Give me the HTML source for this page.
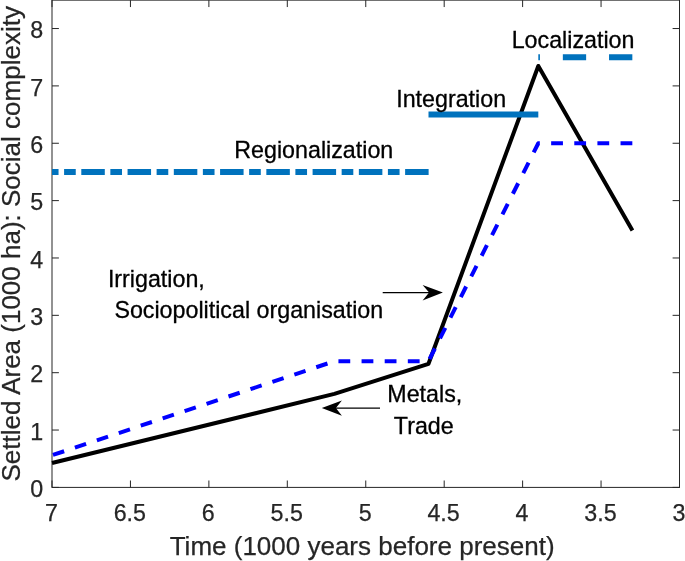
<!DOCTYPE html>
<html><head><meta charset="utf-8"><title>Settled area and social complexity</title>
<style>
html,body{margin:0;padding:0;background:#fff;}
svg{display:block;}
text{font-family:"Liberation Sans",Arial,Helvetica,sans-serif;}
.tk{font-size:23.25px;fill:#262626;stroke:#262626;stroke-width:0.25px;}
.lb{font-size:26.0px;fill:#262626;stroke:#262626;stroke-width:0.25px;}
.an{font-size:23.25px;fill:#000;stroke:#000;stroke-width:0.3px;}
</style></head><body>
<svg width="685" height="561" viewBox="0 0 685 561">
<rect width="685" height="561" fill="#fff"/>
<g stroke="#262626" stroke-width="1" fill="none" stroke-linecap="butt">
<rect x="52.00" y="0.15" width="627.50" height="487.25"/>
<line x1="52.00" y1="487.40" x2="52.00" y2="480.50"/>
<line x1="52.00" y1="0.15" x2="52.00" y2="7.05"/>
<line x1="130.44" y1="487.40" x2="130.44" y2="480.50"/>
<line x1="130.44" y1="0.15" x2="130.44" y2="7.05"/>
<line x1="208.88" y1="487.40" x2="208.88" y2="480.50"/>
<line x1="208.88" y1="0.15" x2="208.88" y2="7.05"/>
<line x1="287.31" y1="487.40" x2="287.31" y2="480.50"/>
<line x1="287.31" y1="0.15" x2="287.31" y2="7.05"/>
<line x1="365.75" y1="487.40" x2="365.75" y2="480.50"/>
<line x1="365.75" y1="0.15" x2="365.75" y2="7.05"/>
<line x1="444.19" y1="487.40" x2="444.19" y2="480.50"/>
<line x1="444.19" y1="0.15" x2="444.19" y2="7.05"/>
<line x1="522.62" y1="487.40" x2="522.62" y2="480.50"/>
<line x1="522.62" y1="0.15" x2="522.62" y2="7.05"/>
<line x1="601.06" y1="487.40" x2="601.06" y2="480.50"/>
<line x1="601.06" y1="0.15" x2="601.06" y2="7.05"/>
<line x1="679.50" y1="487.40" x2="679.50" y2="480.50"/>
<line x1="679.50" y1="0.15" x2="679.50" y2="7.05"/>
<line x1="52.00" y1="487.40" x2="58.90" y2="487.40"/>
<line x1="679.50" y1="487.40" x2="672.60" y2="487.40"/>
<line x1="52.00" y1="430.04" x2="58.90" y2="430.04"/>
<line x1="679.50" y1="430.04" x2="672.60" y2="430.04"/>
<line x1="52.00" y1="372.69" x2="58.90" y2="372.69"/>
<line x1="679.50" y1="372.69" x2="672.60" y2="372.69"/>
<line x1="52.00" y1="315.33" x2="58.90" y2="315.33"/>
<line x1="679.50" y1="315.33" x2="672.60" y2="315.33"/>
<line x1="52.00" y1="257.97" x2="58.90" y2="257.97"/>
<line x1="679.50" y1="257.97" x2="672.60" y2="257.97"/>
<line x1="52.00" y1="200.62" x2="58.90" y2="200.62"/>
<line x1="679.50" y1="200.62" x2="672.60" y2="200.62"/>
<line x1="52.00" y1="143.26" x2="58.90" y2="143.26"/>
<line x1="679.50" y1="143.26" x2="672.60" y2="143.26"/>
<line x1="52.00" y1="85.90" x2="58.90" y2="85.90"/>
<line x1="679.50" y1="85.90" x2="672.60" y2="85.90"/>
<line x1="52.00" y1="28.54" x2="58.90" y2="28.54"/>
<line x1="679.50" y1="28.54" x2="672.60" y2="28.54"/>
</g>
<g class="tk" text-anchor="middle">
<text x="51.40" y="520.9">7</text>
<text x="129.84" y="520.9">6.5</text>
<text x="208.28" y="520.9">6</text>
<text x="286.71" y="520.9">5.5</text>
<text x="365.15" y="520.9">5</text>
<text x="443.59" y="520.9">4.5</text>
<text x="522.02" y="520.9">4</text>
<text x="600.46" y="520.9">3.5</text>
<text x="678.90" y="520.9">3</text>
</g>
<g class="tk" text-anchor="end">
<text x="43.2" y="497.00">0</text>
<text x="43.2" y="439.64">1</text>
<text x="43.2" y="382.29">2</text>
<text x="43.2" y="324.93">3</text>
<text x="43.2" y="267.57">4</text>
<text x="43.2" y="210.22">5</text>
<text x="43.2" y="152.86">6</text>
<text x="43.2" y="95.50">7</text>
<text x="43.2" y="38.14">8</text>
</g>
<text class="lb" x="169.7" y="555.4">Time (1000 years before present)</text>
<text class="lb" transform="translate(19.6 481.6) rotate(-90)">Settled Area (1000 ha): Social complexity</text>
<polyline points="52.00,463.02 334.38,393.91 428.50,363.80 538.31,66.00 632.44,230.61" fill="none" stroke="#000" stroke-width="4" stroke-linejoin="round"/>
<polyline points="52.00,455.28 334.38,361.21 428.50,361.21 538.31,143.26 632.44,143.26" fill="none" stroke="#0000FF" stroke-width="4" stroke-dasharray="11.8 11.33" stroke-dashoffset="-1" stroke-linejoin="round"/>
<line x1="52.00" y1="171.94" x2="428.80" y2="171.94" stroke="#0072BD" stroke-width="6" stroke-dasharray="23.5 5.55 11.66 5.55" stroke-dashoffset="16.96"/>
<line x1="428.50" y1="114.58" x2="538.31" y2="114.58" stroke="#0072BD" stroke-width="6"/>
<line x1="538.31" y1="57.22" x2="632.44" y2="57.22" stroke="#0072BD" stroke-width="6" stroke-dasharray="23.3 22.9" stroke-dashoffset="21.67"/>
<g class="an">
<text x="234.3" y="158.1">Regionalization</text>
<text x="396.2" y="107.1">Integration</text>
<text x="511.7" y="47.7">Localization</text>
<text x="107.9" y="287.2">Irrigation,</text>
<text x="114.4" y="318.3">Sociopolitical organisation</text>
<text x="387.3" y="402.0">Metals,</text>
<text x="393.8" y="433.7">Trade</text>
</g>
<g stroke="#000" stroke-width="1.3" fill="#000">
<line x1="382.7" y1="292.6" x2="430" y2="292.6"/>
<path d="M442.9 292.6 L422.6 285.0 L429.1 292.6 L422.6 300.4 Z" stroke="none"/>
<line x1="380.0" y1="408.1" x2="335" y2="408.1"/>
<path d="M321.8 408.1 L341.9 400.6 L335.9 408.1 L341.9 415.7 Z" stroke="none"/>
</g>
</svg>
</body></html>
